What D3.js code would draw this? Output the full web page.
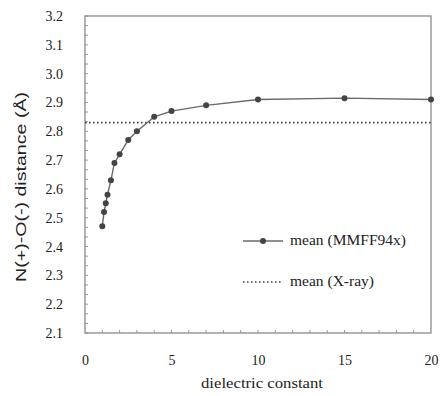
<!DOCTYPE html>
<html>
<head>
<meta charset="utf-8">
<script src="https://cdn.jsdelivr.net/npm/d3@7"></script>
<style>
  html, body { margin: 0; padding: 0; background: #fff; }
  svg { display: block; }
</style>
</head>
<body>
<div id="chart"></div>
<script>
// dielectric constant values and mean N(+)-O(-) distances (MMFF94x)
const dielectric = [1, 1.1, 1.2, 1.3, 1.5, 1.7, 2, 2.5, 3, 4, 5, 7, 10, 15, 20];
const meanMMFF = [2.47, 2.52, 2.55, 2.58, 2.63, 2.69, 2.72, 2.77, 2.80, 2.85, 2.87, 2.89, 2.91, 2.915, 2.91];
const meanXray = 2.83;
const xTicks = [0, 5, 10, 15, 20];
const yTicks = [2.1, 2.2, 2.3, 2.4, 2.5, 2.6, 2.7, 2.8, 2.9, 3.0, 3.1, 3.2];
const legendLabels = ['mean (MMFF94x)', 'mean (X-ray)'];

const width = 441, height = 396;
const margin = { left: 85, right: 10, top: 16, bottom: 63 };
const innerW = width - margin.left - margin.right;
const innerH = height - margin.top - margin.bottom;
const serif = '"Liberation Serif", "Times New Roman", serif';

const svg = d3.select('#chart')
  .append('svg')
  .attr('width', width)
  .attr('height', height);

const g = svg.append('g')
  .attr('transform', 'translate(' + margin.left + ',' + margin.top + ')');

const x = d3.scaleLinear().domain([0, 20]).range([0, innerW]);
const y = d3.scaleLinear().domain([2.1, 3.2]).range([innerH, 0]);

// minor ticks (inside the frame)
const yMinor = d3.range(0, 34).map(i => 2.1 + i * 0.1 / 3);
g.append('g')
  .selectAll('line')
  .data(yMinor)
  .join('line')
  .attr('x1', 0).attr('x2', 3)
  .attr('y1', d => y(d)).attr('y2', d => y(d))
  .attr('stroke', '#9a9a9a')
  .attr('stroke-width', 1);

g.append('g')
  .selectAll('line')
  .data(d3.range(1, 20))
  .join('line')
  .attr('x1', d => x(d)).attr('x2', d => x(d))
  .attr('y1', innerH).attr('y2', innerH - 3)
  .attr('stroke', '#9a9a9a')
  .attr('stroke-width', 1);

// frame
g.append('rect')
  .attr('x', 0).attr('y', 0)
  .attr('width', innerW).attr('height', innerH)
  .attr('fill', 'none')
  .attr('stroke', '#8a8a8a')
  .attr('stroke-width', 1.3);

// axes labels only (ticks drawn above)
g.append('g')
  .attr('transform', 'translate(0,' + innerH + ')')
  .call(d3.axisBottom(x).tickValues(xTicks).tickSize(0).tickPadding(22).tickFormat(d3.format('d')))
  .call(a => a.select('.domain').remove())
  .call(a => a.selectAll('text')
    .attr('font-family', serif)
    .attr('font-size', 14)
    .attr('fill', '#222'));

g.append('g')
  .call(d3.axisLeft(y).tickValues(yTicks).tickSize(0).tickPadding(22).tickFormat(d3.format('.1f')))
  .call(a => a.select('.domain').remove())
  .call(a => a.selectAll('text')
    .attr('font-family', serif)
    .attr('font-size', 14)
    .attr('fill', '#222'));

// X-ray mean line
g.append('line')
  .attr('x1', 0).attr('x2', innerW)
  .attr('y1', y(meanXray)).attr('y2', y(meanXray))
  .attr('stroke', '#444')
  .attr('stroke-width', 1.6)
  .attr('stroke-dasharray', '1.6,2.4');

// MMFF94x series
const line = d3.line()
  .x((d, i) => x(dielectric[i]))
  .y(d => y(d));

g.append('path')
  .datum(meanMMFF)
  .attr('d', line)
  .attr('fill', 'none')
  .attr('stroke', '#6a6a6a')
  .attr('stroke-width', 1.4);

g.append('g')
  .selectAll('circle')
  .data(meanMMFF)
  .join('circle')
  .attr('cx', (d, i) => x(dielectric[i]))
  .attr('cy', d => y(d))
  .attr('r', 3)
  .attr('fill', '#444');

// legend
const legend = svg.append('g');
legend.append('line')
  .attr('x1', 243).attr('x2', 283)
  .attr('y1', 241).attr('y2', 241)
  .attr('stroke', '#6a6a6a').attr('stroke-width', 1.4);
legend.append('circle')
  .attr('cx', 263).attr('cy', 241).attr('r', 3)
  .attr('fill', '#444');
legend.append('line')
  .attr('x1', 243).attr('x2', 283)
  .attr('y1', 282).attr('y2', 282)
  .attr('stroke', '#444').attr('stroke-width', 1.6)
  .attr('stroke-dasharray', '1.6,2.4');

legend.selectAll('text')
  .data(legendLabels)
  .join('text')
  .attr('x', 290)
  .attr('y', (d, i) => 245 + i * 41)
  .attr('font-family', serif)
  .attr('font-size', 14)
  .attr('fill', '#222')
  .attr('textLength', (d, i) => i === 0 ? 116 : 84)
  .attr('lengthAdjust', 'spacingAndGlyphs')
  .text(d => d);

// axis titles
svg.append('text')
  .attr('x', 262)
  .attr('y', 388)
  .attr('text-anchor', 'middle')
  .attr('font-family', serif)
  .attr('font-size', 15)
  .attr('fill', '#222')
  .attr('textLength', 122)
  .attr('lengthAdjust', 'spacingAndGlyphs')
  .text('dielectric constant');

svg.append('text')
  .attr('transform', 'translate(26,187) rotate(-90)')
  .attr('text-anchor', 'middle')
  .attr('font-family', '"Liberation Sans", Arial, sans-serif')
  .attr('font-size', 15)
  .attr('fill', '#222')
  .attr('textLength', 190)
  .attr('lengthAdjust', 'spacingAndGlyphs')
  .text('N(+)-O(-) distance (Å)');
</script>
</body>
</html>
